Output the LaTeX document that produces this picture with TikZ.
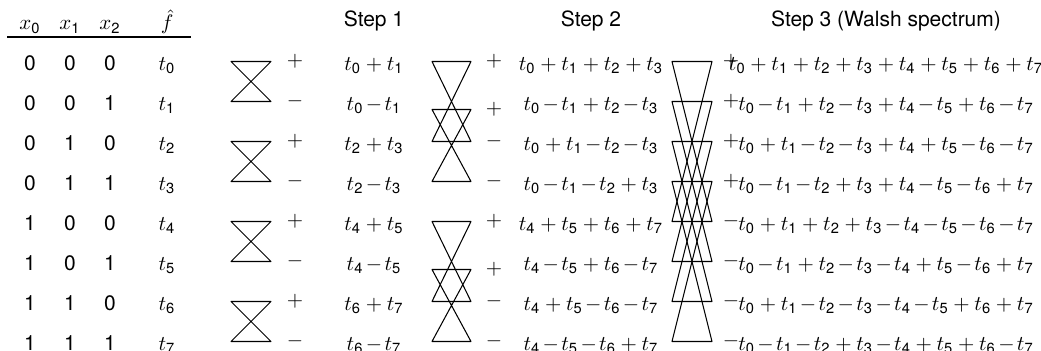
\documentclass[tikz,border=0pt]{standalone}
\usepackage{amsmath}
\usepackage{fontspec}
\setmainfont{TeX Gyre Heros}
\newcommand\tv[1]{t_{\text{#1}}}
\newcommand\xv[1]{x_{\text{#1}}}
\newcommand\tminus{\mathbin{\mkern-2mu\mathchar"2200\mkern-2mu}}
\usetikzlibrary{matrix}

\begin{document}
\begin{tikzpicture}[x=0.4762pt, y=-0.4762pt, line width=0.5pt, line join=round,
    term/.style={anchor=base, inner sep=0pt},
    opsign/.style={inner sep=0pt}]
    \useasboundingbox (0,0) rectangle (1041,351);
    \matrix (tab) [matrix of nodes,
            ampersand replacement=\&,
            matrix anchor=tab-2-1.base,
            nodes={inner sep=0pt},
            row sep={19.05pt,between origins},
            column sep={19.05pt,between origins}] at (30,70) {
      $\xv0$ \& $\xv1$ \& $\xv2$ \&[8.1pt] $\hat{f}$ \\
      0 \& 0 \& 0 \& $\tv0$ \\
      0 \& 0 \& 1 \& $\tv1$ \\
      0 \& 1 \& 0 \& $\tv2$ \\
      0 \& 1 \& 1 \& $\tv3$ \\
      1 \& 0 \& 0 \& $\tv4$ \\
      1 \& 0 \& 1 \& $\tv5$ \\
      1 \& 1 \& 0 \& $\tv6$ \\
      1 \& 1 \& 1 \& $\tv7$ \\
    };
    \draw (7,37) -- (191,37);
    \node[term] (head1) at (374,27) {Step 1};
    \node[term] (head2) at (591,27) {Step 2};
    \node[term] (head3) at (886,27) {Step 3 (Walsh spectrum)};
    \coordinate (b1l) at (231,0);
    \coordinate (b1r) at (271,0);
    \coordinate (b2l) at (432,0);
    \coordinate (b2r) at (471,0);
    \coordinate (b3l) at (672,0);
    \coordinate (b3r) at (712,0);
    \foreach \s [count=\i from 0] in {+,-,+,-,+,-,+,-}
      \node[opsign] (p1-\i) at (295,{61.5+40*\i}) {$\s$};
    \foreach \s/\dy [count=\i from 0] in {+/0,+/8,-/0,-/0,+/0,+/8,-/0,-/0}
      \node[opsign] (p2-\i) at (494,{61.5+40*\i+\dy}) {$\s$};
    \foreach \s [count=\i from 0] in {+,+,+,+,-,-,-,-}
      \node[opsign] (p3-\i) at (731,{61.5+40*\i}) {$\s$};
    \foreach \e [count=\i from 0] in {\tv0+\tv1, \tv0\tminus\tv1, \tv2+\tv3, \tv2\tminus\tv3,
        \tv4+\tv5, \tv4\tminus\tv5, \tv6+\tv7, \tv6\tminus\tv7}
      \node[term] (s1-\i) at (374,{70+40*\i}) {$\e$};
    \foreach \e [count=\i from 0] in {\tv0+\tv1+\tv2+\tv3, \tv0\tminus\tv1+\tv2\tminus\tv3,
        \tv0+\tv1\tminus\tv2\tminus\tv3, \tv0\tminus\tv1\tminus\tv2+\tv3, \tv4+\tv5+\tv6+\tv7,
        \tv4\tminus\tv5+\tv6\tminus\tv7, \tv4+\tv5\tminus\tv6\tminus\tv7,
        \tv4\tminus\tv5\tminus\tv6+\tv7}
      \node[term] (s2-\i) at (591,{70+40*\i}) {$\e$};
    \foreach \e [count=\i from 0] in {\tv0+\tv1+\tv2+\tv3+\tv4+\tv5+\tv6+\tv7,
        \tv0\tminus\tv1+\tv2\tminus\tv3+\tv4\tminus\tv5+\tv6\tminus\tv7,
        \tv0+\tv1\tminus\tv2\tminus\tv3+\tv4+\tv5\tminus\tv6\tminus\tv7,
        \tv0\tminus\tv1\tminus\tv2+\tv3+\tv4\tminus\tv5\tminus\tv6+\tv7,
        \tv0+\tv1+\tv2+\tv3\tminus\tv4\tminus\tv5\tminus\tv6\tminus\tv7,
        \tv0\tminus\tv1+\tv2\tminus\tv3\tminus\tv4+\tv5\tminus\tv6+\tv7,
        \tv0+\tv1\tminus\tv2\tminus\tv3\tminus\tv4\tminus\tv5+\tv6+\tv7,
        \tv0\tminus\tv1\tminus\tv2+\tv3\tminus\tv4+\tv5+\tv6\tminus\tv7}
      \node[term] (s3-\i) at (886,{70+40*\i}) {$\e$};
    \foreach \i/\j in {0/1,2/3,4/5,6/7}
      \draw (b1l |- p1-\i) -- (b1r |- p1-\i) -- (b1l |- p1-\j) -- (b1r |- p1-\j) -- cycle;
    \foreach \i/\j in {0/2,1/3,4/6,5/7}
      \draw (b2l |- p2-\i) -- (b2r |- p2-\i) -- (b2l |- p2-\j) -- (b2r |- p2-\j) -- cycle;
    \foreach \i/\j in {0/4,1/5,2/6,3/7}
      \draw (b3l |- p3-\i) -- (b3r |- p3-\i) -- (b3l |- p3-\j) -- (b3r |- p3-\j) -- cycle;
\end{tikzpicture}
\end{document}
